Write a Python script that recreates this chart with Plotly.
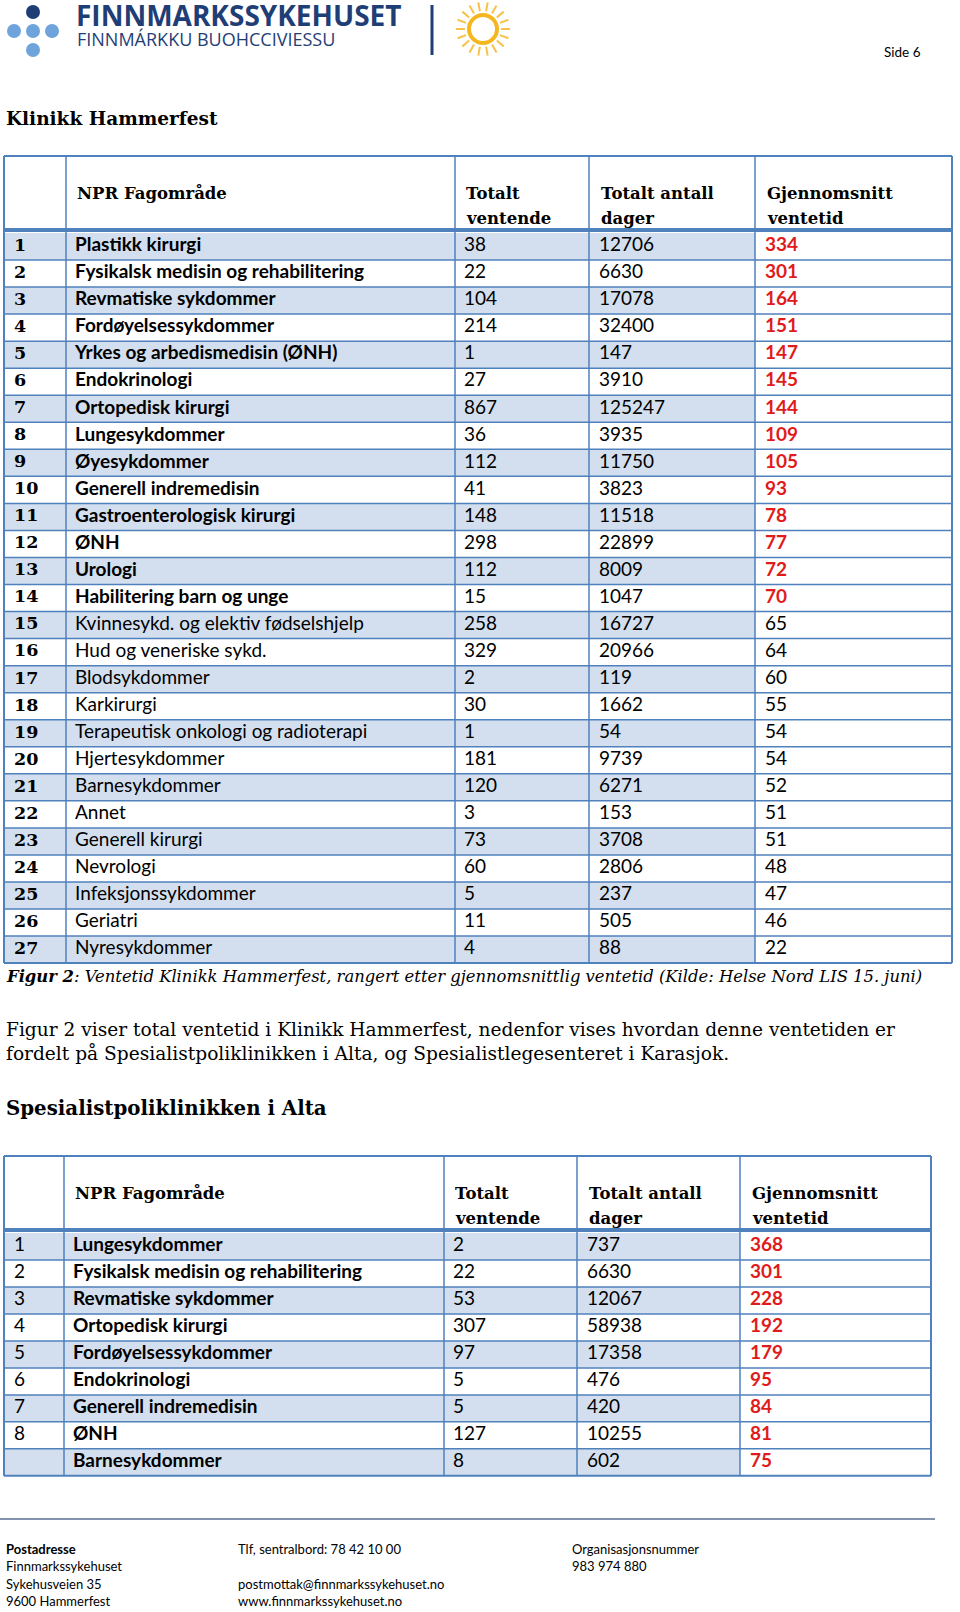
import numpy as np
import plotly.graph_objects as go

# Tabell 1: Klinikk Hammerfest
fag_hf = ["Plastikk kirurgi", "Fysikalsk medisin og rehabilitering", "Revmatiske sykdommer",
          "Fordøyelsessykdommer", "Yrkes og arbedismedisin (ØNH)", "Endokrinologi",
          "Ortopedisk kirurgi", "Lungesykdommer", "Øyesykdommer", "Generell indremedisin",
          "Gastroenterologisk kirurgi", "ØNH", "Urologi", "Habilitering barn og unge",
          "Kvinnesykd. og elektiv fødselshjelp", "Hud og veneriske sykd.", "Blodsykdommer",
          "Karkirurgi", "Terapeutisk onkologi og radioterapi", "Hjertesykdommer",
          "Barnesykdommer", "Annet", "Generell kirurgi", "Nevrologi", "Infeksjonssykdommer",
          "Geriatri", "Nyresykdommer"]
ventende_hf = [38, 22, 104, 214, 1, 27, 867, 36, 112, 41, 148, 298, 112, 15,
               258, 329, 2, 30, 1, 181, 120, 3, 73, 60, 5, 11, 4]
dager_hf = [12706, 6630, 17078, 32400, 147, 3910, 125247, 3935, 11750, 3823, 11518, 22899,
            8009, 1047, 16727, 20966, 119, 1662, 54, 9739, 6271, 153, 3708, 2806, 237, 505, 88]
snitt_hf = [334, 301, 164, 151, 147, 145, 144, 109, 105, 93, 78, 77, 72, 70,
            65, 64, 60, 55, 54, 54, 52, 51, 51, 48, 47, 46, 22]
nr_hf = [str(i + 1) for i in range(len(fag_hf))]
merket_hf = 14  # de 14 første radene er uthevet

# Tabell 2: Spesialistpoliklinikken i Alta
fag_alta = ["Lungesykdommer", "Fysikalsk medisin og rehabilitering", "Revmatiske sykdommer",
            "Ortopedisk kirurgi", "Fordøyelsessykdommer", "Endokrinologi",
            "Generell indremedisin", "ØNH", "Barnesykdommer"]
ventende_alta = [2, 22, 53, 307, 97, 5, 5, 127, 8]
dager_alta = [737, 6630, 12067, 58938, 17358, 476, 420, 10255, 602]
snitt_alta = [368, 301, 228, 192, 179, 95, 84, 81, 75]
nr_alta = ["1", "2", "3", "4", "5", "6", "7", "8", ""]
merket_alta = 9

headers = [["NPR Fagområde"], ["Totalt", "ventende"], ["Totalt antall", "dager"], ["Gjennomsnitt", "ventetid"]]

BLUE = "#4f81bd"
BAND = "#d3dfee"
RED = "#e01b1b"
NAVY = "#1f3e76"
SERIF = "DejaVu Serif"
SANS = "Lato"

fig = go.Figure()
shapes = []
ann = []


def add_table(nr, fag, vent, dager, snitt, merket, top, hbot, rh, cols, tx, serif_nr):
    left, right = cols[0], cols[-1]
    n = len(fag)
    r0 = hbot + 3
    # banding (last column stays white)
    for i in range(n):
        if i % 2 == 0:
            shapes.append(dict(type="rect", x0=left, x1=cols[4], y0=r0 + i * rh, y1=r0 + (i + 1) * rh,
                               fillcolor=BAND, line_width=0, layer="below"))
    bottom = r0 + n * rh
    shapes.append(dict(type="line", x0=left, x1=right, y0=top, y1=top, line=dict(color=BLUE, width=2)))
    shapes.append(dict(type="line", x0=left, x1=right, y0=hbot, y1=hbot, line=dict(color=BLUE, width=4)))
    for i in range(1, n + 1):
        shapes.append(dict(type="line", x0=left, x1=right, y0=r0 + i * rh, y1=r0 + i * rh,
                           line=dict(color=BLUE, width=1.5 if i < n else 2)))
    for c in cols:
        shapes.append(dict(type="line", x0=c, x1=c, y0=top, y1=bottom,
                           line=dict(color=BLUE, width=2 if c in (left, right) else 1.5)))
    # header, one annotation per line
    for lines, x in zip(headers, tx[1:]):
        for k, t in enumerate(lines):
            ann.append(dict(x=x, y=top + 37 + 25 * k, text="<b>" + t + "</b>",
                            showarrow=False, xanchor="left", yanchor="middle",
                            font=dict(family=SERIF, size=16.5, color="black")))
    ys = [r0 + (i + 0.5) * rh for i in range(n)]
    nrtxt = ["<b>" + s + "</b>" for s in nr] if serif_nr else nr
    fig.add_trace(go.Scatter(x=[tx[0]] * n, y=ys, mode="text", text=nrtxt, textposition="middle right",
                             textfont=dict(family=SERIF if serif_nr else SANS, size=17.5 if serif_nr else 19,
                                           color="black"),
                             cliponaxis=False, hoverinfo="skip"))
    fagtxt = ["<b>" + f + "</b>" if i < merket else f for i, f in enumerate(fag)]
    for col, vals in ((1, fagtxt), (2, [str(v) for v in vent]), (3, [str(v) for v in dager])):
        fig.add_trace(go.Scatter(x=[tx[col]] * n, y=ys, mode="text", text=vals, textposition="middle right",
                                 textfont=dict(family=SANS, size=19, color="black"),
                                 cliponaxis=False, hoverinfo="skip"))
    sntxt = ["<b>" + str(v) + "</b>" if i < merket else str(v) for i, v in enumerate(snitt)]
    fig.add_trace(go.Scatter(x=[tx[4]] * n, y=ys, mode="text", text=sntxt, textposition="middle right",
                             textfont=dict(family=SANS, size=19,
                                           color=[RED if i < merket else "black" for i in range(n)]),
                             cliponaxis=False, hoverinfo="skip"))


add_table(nr_hf, fag_hf, ventende_hf, dager_hf, snitt_hf, merket_hf,
          top=156, hbot=230, rh=27.04, cols=[4, 66, 455, 589, 755, 952],
          tx=[14, 75, 464, 599, 765], serif_nr=True)
add_table(nr_alta, fag_alta, ventende_alta, dager_alta, snitt_alta, merket_alta,
          top=1156, hbot=1230, rh=26.98, cols=[4, 64, 444, 577, 740, 931],
          tx=[14, 73, 453, 587, 750], serif_nr=False)

# logo
for cx, cy, col in ((33, 12, NAVY), (14, 31, "#6fa3dc"), (33, 31, "#6fa3dc"), (52, 31, "#6fa3dc"), (33, 50, "#6fa3dc")):
    shapes.append(dict(type="circle", x0=cx - 7, x1=cx + 7, y0=cy - 7, y1=cy + 7,
                       fillcolor=col, line_width=0))
ann.append(dict(x=74, y=15, text="<b>FINNMARKSSYKEHUSET</b>", showarrow=False, xanchor="left", yanchor="middle",
                font=dict(family="Open Sans", size=28, color=NAVY)))
ann.append(dict(x=75, y=39, text="FINNMÁRKKU BUOHCCIVIESSU", showarrow=False, xanchor="left", yanchor="middle",
                font=dict(family="Open Sans", size=18, color=NAVY)))
shapes.append(dict(type="line", x0=432, x1=432, y0=5, y1=55, line=dict(color=NAVY, width=3)))
sx, sy = 483, 29
shapes.append(dict(type="circle", x0=sx - 14, x1=sx + 14, y0=sy - 14, y1=sy + 14,
                   line=dict(color="#f5b71f", width=4)))
for a in np.linspace(0, 2 * np.pi, 18, endpoint=False):
    shapes.append(dict(type="line", x0=sx + 18 * np.cos(a), y0=sy + 18 * np.sin(a),
                       x1=sx + 27 * np.cos(a), y1=sy + 27 * np.sin(a),
                       line=dict(color="#f7c24a", width=2)))
ann.append(dict(x=882, y=52, text="Side 6", showarrow=False, xanchor="left", yanchor="middle",
                font=dict(family=SANS, size=13.5, color="black")))

# titles and text
ann.append(dict(x=4, y=118, text="<b>Klinikk Hammerfest</b>", showarrow=False, xanchor="left", yanchor="middle",
                font=dict(family=SERIF, size=18.5, color="black")))
ann.append(dict(x=4, y=976, text="<b><i>Figur 2</i></b><i>: Ventetid Klinikk Hammerfest, rangert etter gjennomsnittlig ventetid (Kilde: Helse Nord LIS 15. juni)</i>",
                showarrow=False, xanchor="left", yanchor="middle", font=dict(family=SERIF, size=16.4, color="black")))
ann.append(dict(x=4, y=1041, text="Figur 2 viser total ventetid i Klinikk Hammerfest, nedenfor vises hvordan denne ventetiden er<br>fordelt på Spesialistpoliklinikken i Alta, og Spesialistlegesenteret i Karasjok.",
                showarrow=False, xanchor="left", yanchor="middle", align="left",
                font=dict(family=SERIF, size=18.6, color="black")))
ann.append(dict(x=4, y=1108, text="<b>Spesialistpoliklinikken i Alta</b>", showarrow=False, xanchor="left",
                yanchor="middle", font=dict(family=SERIF, size=19.8, color="black")))

# footer
shapes.append(dict(type="line", x0=0, x1=935, y0=1519, y1=1519, line=dict(color="#5a7190", width=1.5)))
footer = [(4, 1549, "<b>Postadresse</b>"), (4, 1566, "Finnmarkssykehuset"), (4, 1584, "Sykehusveien 35"),
          (4, 1601, "9600 Hammerfest"), (236, 1549, "Tlf, sentralbord: 78 42 10 00"),
          (236, 1584, "postmottak@finnmarkssykehuset.no"), (236, 1601, "www.finnmarkssykehuset.no"),
          (570, 1549, "Organisasjonsnummer"), (570, 1566, "983 974 880")]
for x, y, t in footer:
    ann.append(dict(x=x, y=y, text=t, showarrow=False, xanchor="left", yanchor="middle",
                    font=dict(family=SANS, size=13, color="black")))

fig.update_layout(width=960, height=1612, margin=dict(l=0, r=0, t=0, b=0),
                  paper_bgcolor="white", plot_bgcolor="white", showlegend=False,
                  xaxis=dict(range=[0, 960], visible=False, fixedrange=True),
                  yaxis=dict(range=[1612, 0], visible=False, fixedrange=True),
                  shapes=shapes, annotations=ann)
# the page body has a default 8px margin; drop it so the page lines up 1:1
fig.write_html("out.html", config={"displayModeBar": False},
               post_script="document.body.style.margin='0';")
